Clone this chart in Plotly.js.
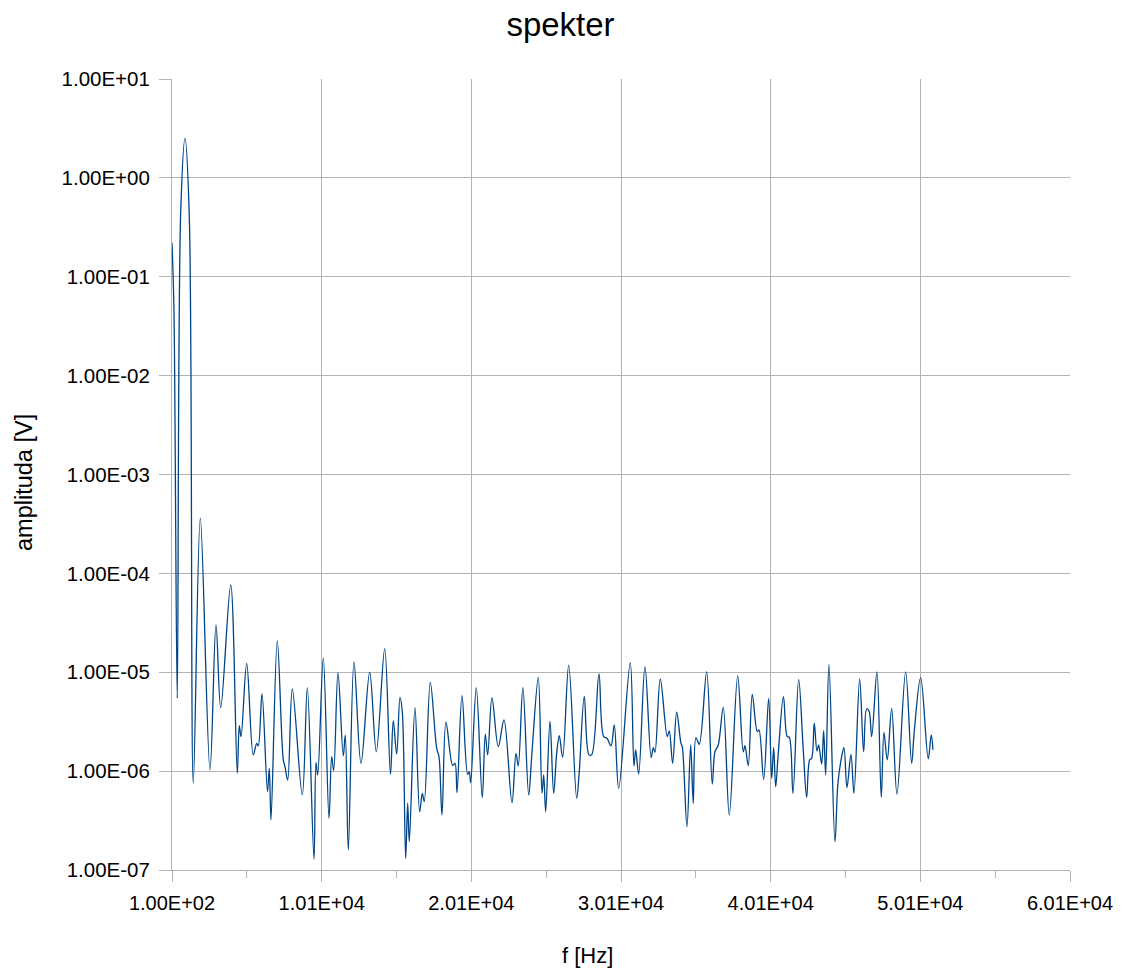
<!DOCTYPE html>
<html>
<head>
<meta charset="utf-8">
<script src="https://cdn.plot.ly/plotly-3.0.1.min.js"></script>
<style>
  html, body { margin: 0; padding: 0; background: #ffffff; }
  #chart { width: 1121px; height: 970px; }
</style>
</head>
<body>
<div id="chart"></div>
<script>
// Frequency (Hz) of the spectrum samples
const freqHz = [
  100, 230, 450, 680, 970, 1256, 1523, 1991, 2639, 3040,
  3354, 4022, 4463, 4596, 4710, 5091, 5532, 5759, 5866, 6113,
  6480, 6600, 6714, 7135, 7536, 7650, 7830, 8137, 8806, 9140,
  9587, 9721, 9834, 10208, 10589, 10769, 10903, 11190, 11545, 11678,
  11879, 12259, 12727, 13308, 13749, 14311, 14698, 14885, 15112, 15333,
  15487, 15713, 15847, 15954, 16335, 16649, 16823, 16957, 17357, 17785,
  17938, 18139, 18406, 18854, 19007, 19141, 19475, 19856, 19963, 20056,
  20430, 20831, 21032, 21192, 21479, 21900, 22281, 22815, 23083, 23236,
  23544, 23932, 24132, 24573, 24820, 24934, 25067, 25354, 25601, 25802,
  25976, 26203, 26604, 27138, 27312, 27646, 27960, 28140, 28628, 28942,
  29162, 29430, 29650, 29944, 30719, 30966, 31080, 31280, 31701, 32116,
  32256, 32370, 32724, 33192, 33325, 33552, 33819, 34107, 34194, 34507,
  34754, 34928, 35109, 35329, 35823, 36198, 36378, 36599, 36933, 37334,
  37895, 38269, 38383, 38603, 38870, 39204, 39318, 39632, 39966, 40167,
  40300, 40434, 40608, 40955, 41209, 41343, 41589, 41970, 42278, 42505,
  42705, 42839, 43012, 43193, 43306, 43507, 43640, 43774, 43994, 44395,
  44595, 44842, 44996, 45196, 45464, 45664, 46046, 46313, 46514, 46667,
  46848, 47201, 47489, 47669, 47890, 48184, 48538, 49118, 49519, 49693,
  50121, 50629, 50829, 50943
];

// Amplitude (V) at each frequency
const amplitudeV = [
  2.21e-1, 4.61e-2, 5.45e-6, 4.38e-1, 2.51e+0, 4.05e-1, 7.53e-7, 3.61e-4, 1.03e-6, 3.01e-5,
  4.38e-6, 7.63e-5, 9.51e-7, 2.88e-6, 2.23e-6, 1.23e-5, 1.46e-6, 1.91e-6, 1.80e-6, 6.03e-6,
  6.19e-7, 1.07e-6, 3.21e-7, 2.08e-5, 1.30e-6, 1.11e-6, 8.13e-7, 6.77e-6, 5.74e-7, 6.98e-6,
  1.28e-7, 1.22e-6, 9.14e-7, 1.40e-5, 3.33e-7, 1.40e-6, 1.01e-6, 9.89e-6, 1.43e-6, 2.32e-6,
  1.59e-7, 1.27e-5, 1.20e-6, 1.00e-5, 1.57e-6, 1.73e-5, 9.25e-7, 3.24e-6, 1.49e-6, 5.58e-6,
  3.99e-6, 1.31e-7, 4.73e-7, 1.93e-7, 4.38e-6, 3.89e-7, 5.97e-7, 4.91e-7, 7.91e-6, 1.70e-6,
  1.40e-6, 3.60e-7, 3.12e-6, 1.14e-6, 1.20e-6, 6.05e-7, 5.79e-6, 9.29e-7, 9.80e-7, 7.64e-7,
  6.98e-6, 5.38e-7, 2.36e-6, 1.46e-6, 5.53e-6, 1.77e-6, 3.29e-6, 4.80e-7, 1.51e-6, 1.13e-6,
  6.98e-6, 5.74e-7, 1.40e-6, 8.89e-6, 5.97e-7, 9.14e-7, 3.89e-7, 3.21e-6, 5.97e-7, 1.51e-6,
  2.28e-6, 1.38e-6, 1.18e-5, 5.31e-7, 9.87e-7, 5.71e-6, 1.46e-6, 1.46e-6, 9.60e-6, 2.23e-6,
  2.15e-6, 1.80e-6, 2.93e-6, 6.70e-7, 1.25e-5, 1.13e-6, 1.64e-6, 9.35e-7, 1.14e-5, 1.37e-6,
  1.73e-6, 1.55e-6, 8.55e-6, 2.23e-6, 2.55e-6, 1.20e-6, 3.94e-6, 1.91e-6, 1.77e-6, 2.74e-7,
  1.84e-6, 4.73e-7, 2.18e-6, 1.87e-6, 1.01e-5, 7.41e-7, 1.57e-6, 1.84e-6, 4.42e-6, 3.60e-7,
  9.16e-6, 1.57e-6, 1.81e-6, 1.14e-6, 5.98e-6, 2.51e-6, 2.61e-6, 8.26e-7, 5.45e-6, 8.46e-7,
  1.73e-6, 6.96e-7, 1.51e-6, 5.66e-6, 2.23e-6, 2.20e-6, 5.97e-7, 8.49e-6, 1.64e-6, 5.43e-7,
  1.30e-6, 1.35e-6, 3.05e-6, 1.60e-6, 1.84e-6, 1.18e-6, 2.56e-6, 9.14e-7, 1.20e-5, 1.93e-7,
  7.53e-7, 1.40e-6, 1.73e-6, 6.80e-7, 1.48e-6, 5.97e-7, 8.55e-6, 1.57e-6, 4.25e-6, 4.08e-6,
  2.23e-6, 1.01e-5, 5.43e-7, 2.47e-6, 1.30e-6, 4.32e-6, 5.87e-7, 1.01e-5, 1.20e-6, 2.51e-6,
  8.81e-6, 1.33e-6, 2.32e-6, 1.64e-6
];

// Axis ticks
const xTickValues = [100, 10100, 20100, 30100, 40100, 50100, 60100];
const xTickLabels = ["1.00E+02", "1.01E+04", "2.01E+04", "3.01E+04", "4.01E+04", "5.01E+04", "6.01E+04"];
const yTickValues = [1e-7, 1e-6, 1e-5, 1e-4, 1e-3, 1e-2, 1e-1, 1e0, 1e1];
const yTickLabels = ["1.00E-07", "1.00E-06", "1.00E-05", "1.00E-04", "1.00E-03", "1.00E-02", "1.00E-01", "1.00E+00", "1.00E+01"];

const chartTitle = "spekter";
const xTitle = "f [Hz]";
const yTitle = "amplituda [V]";

const FONT = "Liberation Sans, Arial, sans-serif";
const GRID = "#b3b3b3";

const trace = {
  type: "scatter",
  mode: "lines",
  x: freqHz,
  y: amplitudeV,
  line: { color: "#004586", width: 1.3, shape: "spline", smoothing: 1 },
  hoverinfo: "x+y"
};

const layout = {
  width: 1121,
  height: 970,
  paper_bgcolor: "#ffffff",
  plot_bgcolor: "#ffffff",
  margin: { l: 172, r: 51, t: 79, b: 100, pad: 0 },
  showlegend: false,
  font: { family: FONT, color: "#000000", size: 20 },
  title: {
    text: chartTitle,
    font: { family: FONT, size: 33, color: "#000000" },
    x: 0.5, xref: "container", xanchor: "center",
    y: 0.975, yref: "container", yanchor: "middle"
  },
  xaxis: {
    range: [100, 60100],
    tickmode: "array",
    tickvals: xTickValues,
    ticktext: xTickLabels,
    ticks: "outside",
    ticklen: 11,
    tickcolor: GRID,
    tickwidth: 1,
    tickfont: { family: FONT, size: 20, color: "#000000" },
    ticklabelstandoff: 4,
    showgrid: true,
    gridcolor: GRID,
    gridwidth: 1,
    showline: true,
    linecolor: GRID,
    linewidth: 1,
    zeroline: false,
    minor: {
      tickmode: "linear",
      tick0: 100,
      dtick: 5000,
      ticks: "outside",
      ticklen: 7,
      tickcolor: GRID,
      showgrid: false
    }
  },
  yaxis: {
    type: "log",
    range: [-7, 1],
    tickmode: "array",
    tickvals: yTickValues,
    ticktext: yTickLabels,
    ticks: "outside",
    ticklen: 12,
    tickcolor: GRID,
    tickwidth: 1,
    tickfont: { family: FONT, size: 20.5, color: "#000000" },
    ticklabelstandoff: 5,
    showgrid: true,
    gridcolor: GRID,
    gridwidth: 1,
    showline: true,
    linecolor: GRID,
    linewidth: 1,
    zeroline: false
  },
  annotations: [
    {
      text: xTitle, xref: "paper", yref: "paper",
      x: (587 - 172) / 898, y: -(955 - 870) / 791,
      xanchor: "center", yanchor: "middle", showarrow: false,
      font: { family: FONT, size: 22, color: "#000000" }
    },
    {
      text: yTitle, xref: "paper", yref: "paper",
      x: -(172 - 24) / 898, y: (870 - 483) / 791,
      xanchor: "center", yanchor: "middle", showarrow: false, textangle: -90,
      font: { family: FONT, size: 23.5, color: "#000000" }
    }
  ]
};

Plotly.newPlot("chart", [trace], layout, { displayModeBar: false, responsive: false });
</script>
</body>
</html>
